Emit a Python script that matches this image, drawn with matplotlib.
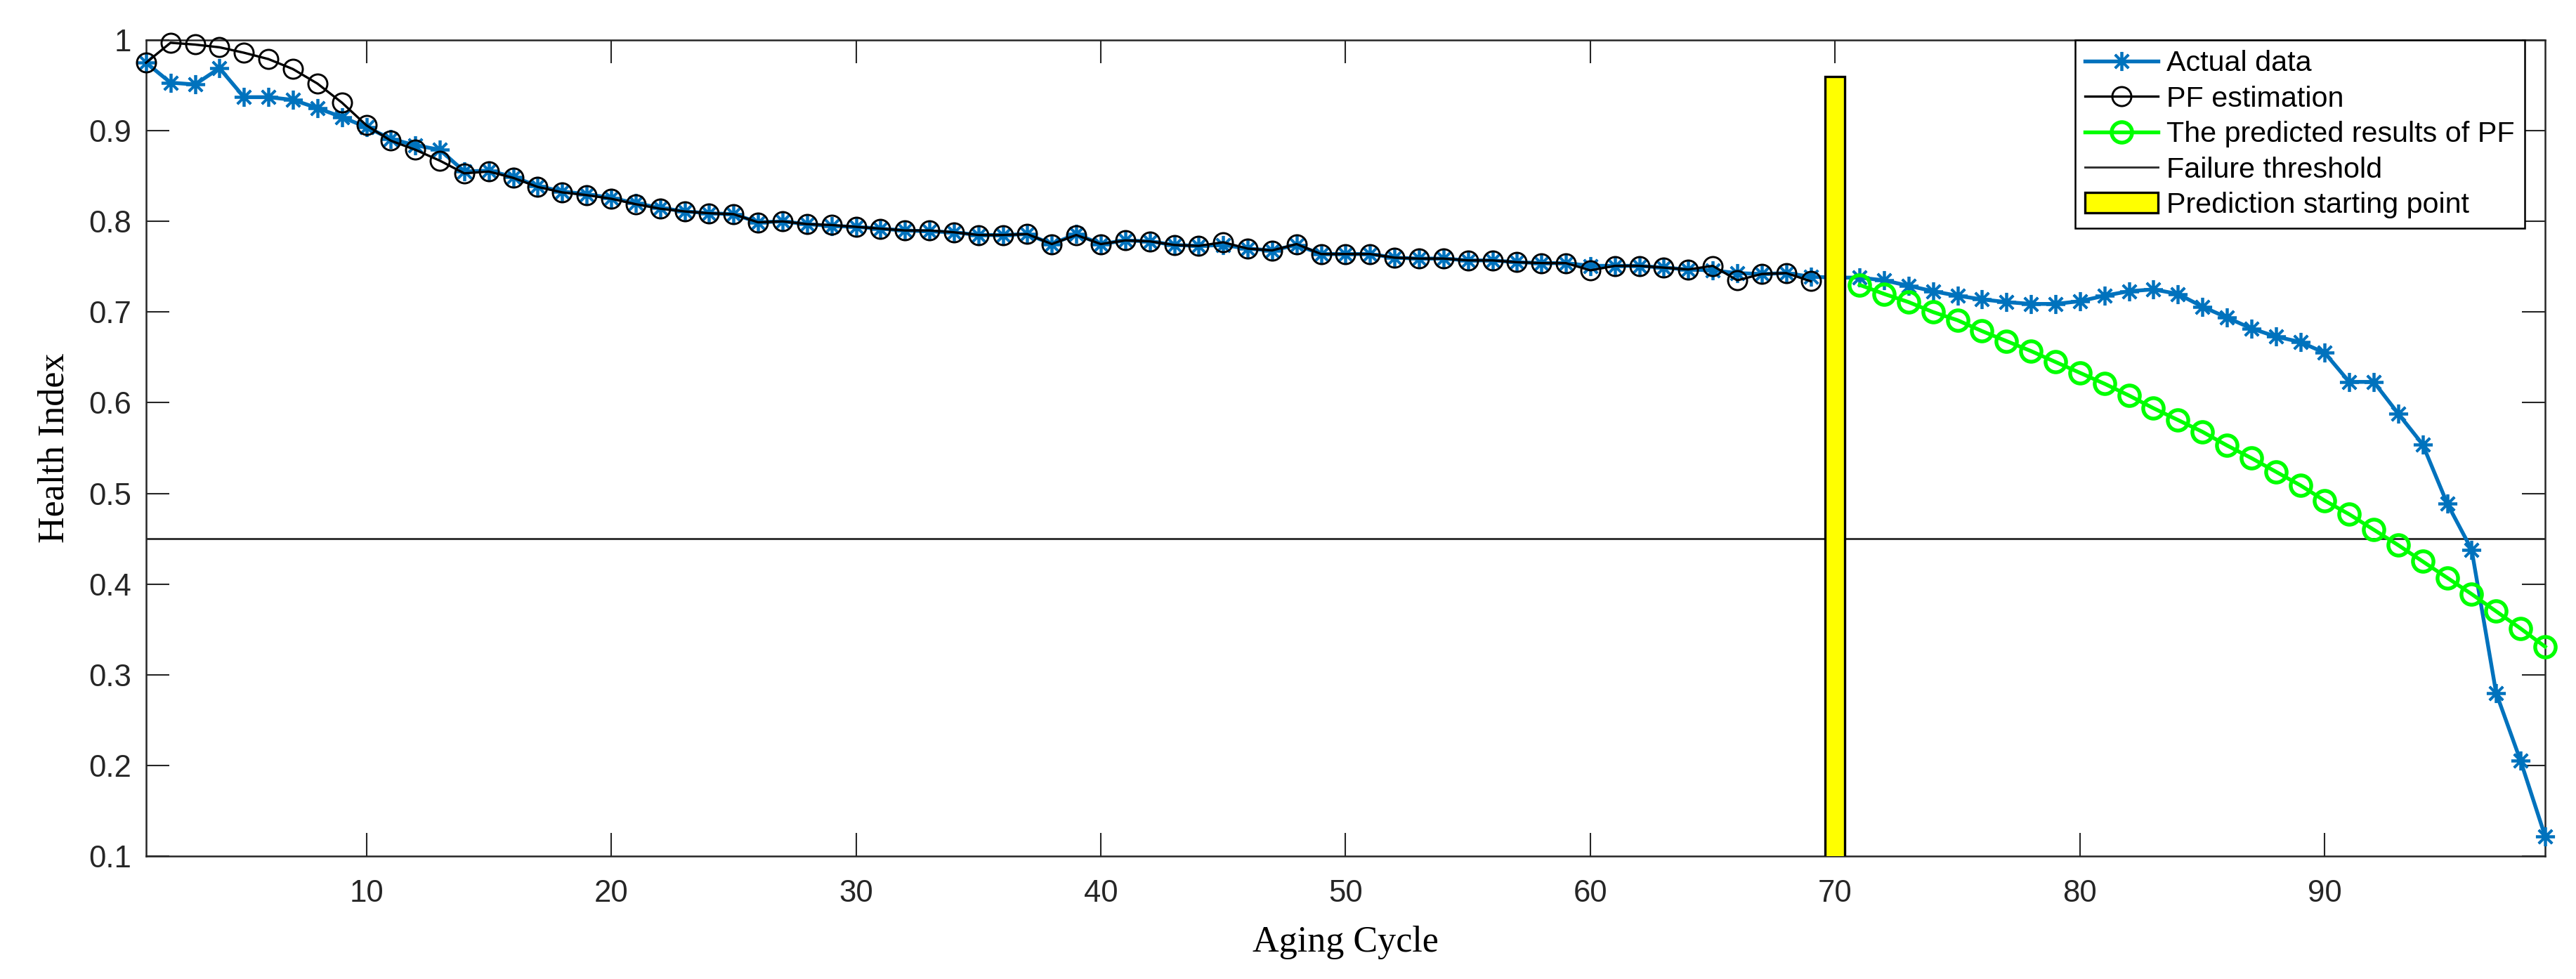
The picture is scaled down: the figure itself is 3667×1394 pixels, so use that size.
import numpy as np
import matplotlib
matplotlib.use("Agg")
import matplotlib.pyplot as plt

cycles = np.arange(1, 100)
actual = [0.975, 0.953, 0.951, 0.969, 0.937, 0.937, 0.934, 0.925, 0.915, 0.904,
          0.891, 0.884, 0.879, 0.855, 0.856, 0.849, 0.839, 0.833, 0.830, 0.826,
          0.820, 0.815, 0.811, 0.809, 0.808, 0.799, 0.800, 0.797, 0.795, 0.794,
          0.792, 0.790, 0.789, 0.788, 0.785, 0.785, 0.786, 0.775, 0.786, 0.775,
          0.779, 0.778, 0.774, 0.773, 0.774, 0.770, 0.768, 0.774, 0.764, 0.764,
          0.764, 0.760, 0.759, 0.759, 0.757, 0.757, 0.755, 0.754, 0.754, 0.751,
          0.751, 0.751, 0.749, 0.747, 0.746, 0.743, 0.742, 0.743, 0.739, 0.738,
          0.738, 0.735, 0.729, 0.723, 0.718, 0.714, 0.711, 0.709, 0.709, 0.712,
          0.718, 0.723, 0.725, 0.720, 0.706, 0.694, 0.682, 0.673, 0.667, 0.655,
          0.623, 0.623, 0.588, 0.554, 0.489, 0.438, 0.280, 0.205, 0.122]

pf_cycles = np.arange(1, 70)
pf_est = [0.975, 0.997, 0.995, 0.992, 0.986, 0.979, 0.968, 0.952, 0.931, 0.906,
          0.889, 0.879, 0.867, 0.853, 0.855, 0.848, 0.838, 0.832, 0.829, 0.825,
          0.819, 0.814, 0.811, 0.809, 0.808, 0.799, 0.800, 0.797, 0.796, 0.794,
          0.792, 0.790, 0.790, 0.788, 0.785, 0.785, 0.786, 0.775, 0.785, 0.775,
          0.779, 0.778, 0.774, 0.773, 0.777, 0.770, 0.768, 0.775, 0.764, 0.764,
          0.764, 0.760, 0.759, 0.759, 0.757, 0.757, 0.755, 0.754, 0.754, 0.746,
          0.751, 0.751, 0.749, 0.747, 0.751, 0.735, 0.742, 0.743, 0.734]

pred_cycles = np.arange(71, 100)
pf_pred = [0.730, 0.720, 0.711, 0.700, 0.691, 0.679, 0.668, 0.657, 0.645, 0.633,
           0.621, 0.608, 0.594, 0.581, 0.568, 0.553, 0.539, 0.524, 0.509, 0.492,
           0.477, 0.460, 0.443, 0.425, 0.407, 0.389, 0.370, 0.351, 0.331]

threshold = 0.45
start_point = 70
start_height = 0.96

xticks = [10, 20, 30, 40, 50, 60, 70, 80, 90]
yticks = [0.1, 0.2, 0.3, 0.4, 0.5, 0.6, 0.7, 0.8, 0.9, 1.0]
ytick_labels = ["0.1", "0.2", "0.3", "0.4", "0.5", "0.6", "0.7", "0.8", "0.9", "1"]

fig = plt.figure(figsize=(3667 / 300, 1394 / 300), dpi=300)
ax = fig.add_axes([0.0567, 0.1255, 0.9313, 0.8336])

ax.plot(cycles, actual, color="#0072BD", lw=1.3, marker=(8, 2, 0), ms=6.5,
        mew=0.9, label="Actual data", zorder=3, clip_on=False)
ax.plot(pf_cycles, pf_est, color="black", lw=0.8, marker="o", ms=6.5,
        mfc="none", mew=0.7, label="PF estimation", zorder=4, clip_on=False)
ax.plot(pred_cycles, pf_pred, color="#00FF00", lw=1.3, marker="o", ms=7,
        mfc="none", mew=1.3, label="The predicted results of PF", zorder=4,
        clip_on=False)
ax.axhline(threshold, color="#303030", lw=0.7, label="Failure threshold", zorder=2)
ax.bar([start_point], [start_height], width=0.8, bottom=0, color="#FFFF00",
       edgecolor="black", linewidth=0.8, label="Prediction starting point", zorder=5)

ax.set_xlim(1, 99)
ax.set_ylim(0.1, 1.0)
ax.set_xticks(xticks)
ax.set_yticks(yticks)
ax.set_yticklabels(ytick_labels)
for lab in ax.get_xticklabels() + ax.get_yticklabels():
    lab.set_fontfamily("Liberation Sans")
    lab.set_fontsize(10.5)
    lab.set_color("#262626")
ax.tick_params(axis="both", direction="in", length=8, width=0.5,
               top=True, right=True, colors="#262626")
ax.tick_params(axis="x", pad=8)
ax.tick_params(axis="y", pad=5)
for s in ax.spines.values():
    s.set_linewidth(0.6)
    s.set_color("#262626")

ax.set_xlabel("Aging Cycle", fontfamily="Liberation Serif", fontsize=12.5, labelpad=6)
ax.set_ylabel("Health Index", fontfamily="Liberation Serif", fontsize=12.5, labelpad=6)

leg = ax.legend(loc="upper right", bbox_to_anchor=(0.9915, 1.0), borderaxespad=0,
                prop={"family": "Liberation Sans", "size": 9.9},
                fancybox=False, framealpha=1, edgecolor="black",
                handlelength=2.5, handletextpad=0.3, labelspacing=0.3,
                borderpad=0.35)
leg.get_frame().set_linewidth(0.6)
leg.set_zorder(10)

fig.savefig("out.png", dpi=300)
